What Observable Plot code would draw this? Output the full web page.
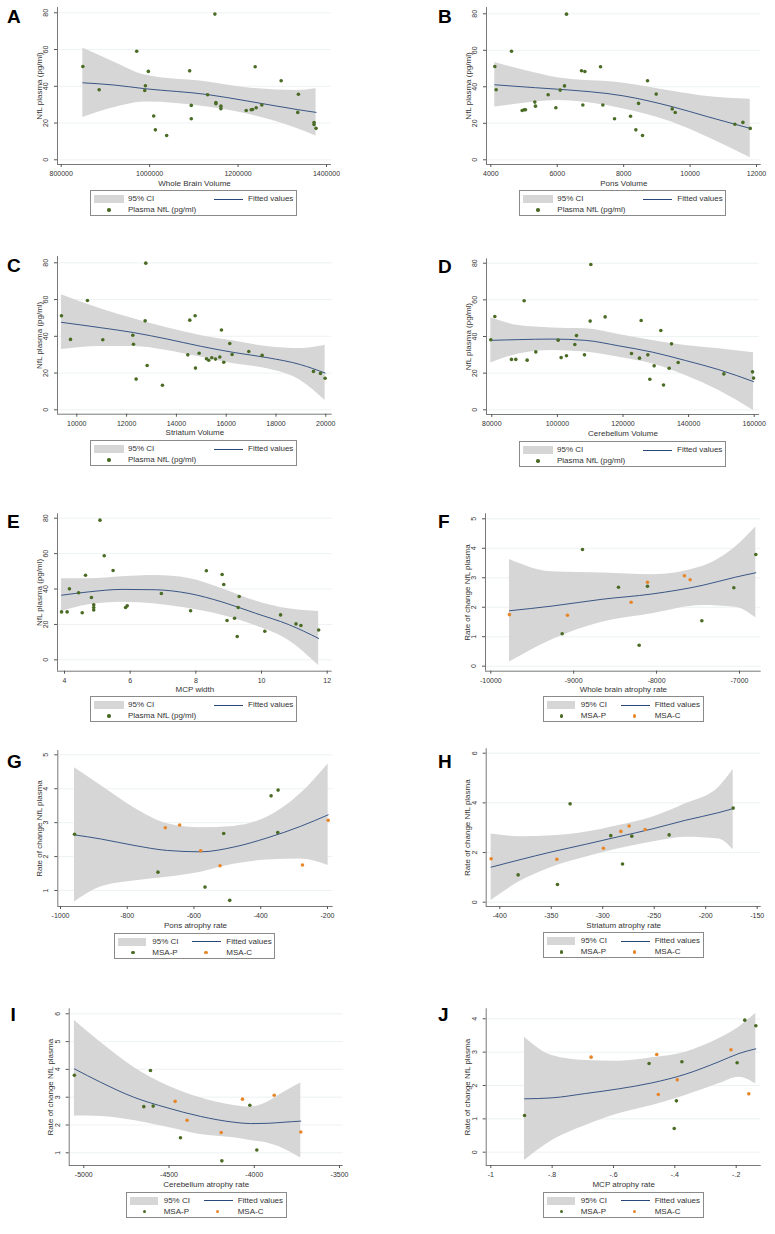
<!DOCTYPE html>
<html><head><meta charset="utf-8">
<script src="https://cdn.jsdelivr.net/npm/d3@7"></script>
<script src="https://cdn.jsdelivr.net/npm/@observablehq/plot@0.6"></script>
<style>
body{margin:0;background:#fff;}
#page{position:relative;width:775px;height:1234px;background:#fff;font-family:"Liberation Sans",Arial,sans-serif;color:#333;overflow:hidden;}
.panel{position:absolute;}
.letter{position:absolute;font-weight:bold;font-size:19px;color:#000;line-height:1;}
.legend{position:absolute;border:1px solid #8a8a8a;height:26px;box-sizing:border-box;background:#fff;font-size:8px;color:#333;}
.legend .sw{position:absolute;}
.legend .tx{position:absolute;transform:translateY(-50%);white-space:nowrap;line-height:1;}
</style></head><body><div id="page"></div>
<script>
// ---------- Data: panels A-E (plasma NfL, pg/ml) ----------
const aX = [848900,885800,970800,997100,990400,988900,1009200,1013000,1038500,1090500,1094200,1094200,1131100,1147600,1149900,1149900,1161200,1161200,1218400,1229700,1232700,1240900,1238700,1253700,1297400,1336500,1335000,1371900,1371900,1376400];
const aY = [50.8,38.1,59.1,48.1,40.3,37.7,23.8,16.3,13.2,48.4,29.6,22.3,35.4,79.3,31.2,30.5,29.2,27.8,26.8,27.2,27.4,28.3,50.6,29.8,43.0,35.7,25.8,20.3,19.2,17.1];
const aBandX = [848900,918900,988900,1131100,1218400,1335000,1376400];
const aHi = [60.8,53.2,46.1,42.3,39.2,37.7,38.6];
const aLo = [23.0,28.3,31.4,28.7,25.0,16.9,12.9];
const aFit = [41.9,40.7,38.7,35.5,32.1,27.3,25.8];

const bX = [4120,4160,4623,4944,5004,5044,5325,5345,5727,5958,6088,6219,6279,6731,6832,6771,7303,7373,7725,8207,8367,8448,8568,8719,8980,9462,9552,11349,11590,11811];
const bY = [51.1,38.4,59.5,27.0,27.4,27.4,31.6,29.4,35.6,28.5,38.2,40.5,79.8,48.8,48.4,30.0,51.0,30.0,22.5,23.9,16.4,30.9,13.3,43.3,36.0,27.9,25.9,19.5,20.5,17.2];
const bBandX = [4120,5345,6000,8000,9462,10530,11811];
const bHi = [53.3,47.5,44.9,42.0,37.6,34.7,33.2];
const bLo = [28.9,31.6,32.5,27.9,20.6,12.4,1.1];
const bFit = [41.1,39.5,38.7,35.0,29.1,23.6,17.2];

const cX = [9384,9746,10428,11044,12249,12276,12383,12744,12771,12825,13440,14458,14538,14752,14765,14913,15207,15301,15422,15569,15743,15810,15903,16144,16238,16907,17443,19505,19786,19973];
const cY = [51.2,38.3,59.5,38.1,40.6,35.7,16.7,48.4,79.8,24.1,13.4,29.9,48.8,51.2,22.7,30.8,27.8,27.0,28.3,27.6,28.7,43.4,25.9,36.1,30.1,31.7,29.6,20.9,19.8,17.2];
const cBandX = [9384,10950,12289,13628,14967,16305,17644,18983,19973];
const cHi = [62.6,55.0,49.5,44.6,40.5,37.4,34.5,33.3,35.1];
const cLo = [32.8,34.5,34.5,32.3,28.7,25.0,22.3,16.0,5.1];
const cFit = [47.6,44.7,42.0,38.5,34.6,31.2,28.4,24.6,20.0];

const dX = [79695,80915,86000,87320,89860,90775,93418,100228,101143,102770,105311,105820,108258,109987,110190,114560,122592,125031,125540,127573,128183,129504,131537,132350,134078,134790,136823,150750,159490,159800];
const dY = [38.2,50.9,27.5,27.5,59.5,27.1,31.6,38.0,28.5,29.5,35.6,40.5,30.0,48.4,79.3,50.7,30.7,28.2,48.7,30.0,16.7,24.0,43.3,13.5,22.7,36.0,25.8,19.6,20.7,17.3];
const dBandX = [79695,88234,98399,108564,118730,128894,139059,149224,159795];
const dHi = [50.2,46.0,44.7,44.2,41.1,37.8,35.1,33.3,31.1];
const dLo = [25.5,30.5,32.4,31.5,28.7,25.1,18.7,10.5,-0.4];
const dFit = [37.9,38.3,38.6,37.9,34.9,31.5,26.9,21.9,15.4];

const eX = [3.91,4.08,4.15,4.43,4.64,4.54,4.82,4.89,4.89,4.89,5.08,5.21,5.48,5.86,5.91,6.95,7.84,8.32,8.80,8.85,9.32,9.29,9.18,8.95,9.26,10.10,10.58,11.05,11.20,11.74];
const eY = [27.1,27.1,40.1,37.9,47.8,26.6,35.2,31.1,29.6,28.2,78.9,58.8,50.5,29.6,30.5,37.5,27.7,50.3,48.2,42.6,35.8,29.6,23.5,22.2,13.2,16.2,25.4,20.3,19.4,16.9];
const eBandX = [3.91,4.74,5.76,6.77,7.79,8.80,9.82,10.83,11.74];
const eHi = [45.8,45.8,46.9,47.6,46.0,40.2,33.3,28.8,27.3];
const eLo = [27.3,31.1,32.6,31.6,29.0,25.2,19.3,11.0,-3.2];
const eFit = [36.5,38.4,39.8,39.6,37.5,32.7,26.3,19.9,12.1];

// ---------- Data: panels F-J (rate of change of plasma NfL) ----------
const rateP = [3.96,1.10,2.68,2.71,0.71,1.54,2.66,3.79];   // MSA-P
const rateC = [1.75,1.73,2.17,2.85,3.07,2.93];             // MSA-C

const fP = [-8894,-9139,-8460,-8110,-8210,-7454,-7068,-6803];
const fC = [-9775,-9075,-8307,-8110,-7664,-7595];
const fBandX = [-9775,-9260,-8657,-8054,-7450,-7048,-6803];
const fHi = [3.62,3.20,3.16,3.10,3.38,4.04,4.72];
const fLo = [0.14,0.90,1.49,1.78,2.06,2.00,1.64];
const fFit = [1.88,2.04,2.27,2.45,2.74,3.02,3.17];

const gP = [-348,-567,-511,-349,-493,-708,-958,-369];
const gC = [-275,-522,-580,-686,-198,-643];
const gBandX = [-958,-880,-780,-680,-580,-481,-381,-281,-198];
const gHi = [4.62,4.10,3.44,2.97,2.85,2.89,3.16,3.85,4.73];
const gLo = [0.66,1.10,1.28,1.39,1.54,1.77,1.90,1.93,1.74];
const gFit = [2.64,2.52,2.33,2.18,2.14,2.28,2.55,2.89,3.23];

const hP = [-331.7,-382.2,-292.2,-235.5,-344.0,-280.8,-271.8,-173.3];
const hC = [-408.4,-344.6,-299.3,-282.4,-274.4,-258.8];
const hBandX = [-408.4,-381.5,-349.2,-316.8,-284.4,-252.0,-219.6,-187.2,-173.3];
const hHi = [2.75,2.64,2.68,2.82,3.09,3.42,3.96,4.63,5.34];
const hLo = [0.07,0.81,1.41,1.81,2.15,2.42,2.62,2.55,2.11];
const hFit = [1.41,1.70,2.03,2.33,2.64,2.95,3.30,3.61,3.77];

const iP = [-4609,-3985,-4593,-4026,-4190,-4433,-4648,-5055];
const iC = [-3727,-4194,-4394,-4464,-3883,-4069];
const iBandX = [-5055,-4902,-4707,-4511,-4316,-4120,-4022,-3924,-3826,-3727];
const iHi = [5.76,4.98,4.08,3.42,2.98,2.70,2.64,2.82,3.18,3.51];
const iLo = [2.32,2.31,2.16,1.92,1.66,1.54,1.44,1.35,1.14,0.81];
const iFit = [4.02,3.54,3.00,2.62,2.31,2.10,2.05,2.06,2.10,2.14];

const jP = [-0.172,-0.890,-0.197,-0.377,-0.402,-0.395,-0.484,-0.136];
const jC = [-0.159,-0.454,-0.392,-0.673,-0.217,-0.459];
const jBandX = [-0.890,-0.800,-0.691,-0.583,-0.474,-0.365,-0.257,-0.191,-0.136];
const jHi = [3.45,2.90,2.75,2.73,2.83,3.00,3.40,3.75,4.17];
const jLo = [-0.25,0.35,0.80,1.15,1.40,1.70,2.05,2.25,2.05];
const jFit = [1.60,1.63,1.76,1.90,2.08,2.34,2.71,2.96,3.10];

// ---------- Axis ticks & labels ----------
const nflTicks = [0,20,40,60,80];
const aTicks = [800000,1000000,1200000,1400000];
const bTicks = [4000,6000,8000,10000,12000];
const cTicks = [10000,12000,14000,16000,18000,20000];
const dTicks = [80000,100000,120000,140000,160000];
const eTicks = [4,6,8,10,12];
const fTicks = [-10000,-9000,-8000,-7000];
const gTicks = [-1000,-800,-600,-400,-200];
const hTicks = [-400,-350,-300,-250,-200,-150];
const iTicks = [-5000,-4500,-4000,-3500];
const jTicks = [-1,-0.8,-0.6,-0.4,-0.2];
const fYTicks = [0,1,2,3,4,5];
const gYTicks = [1,2,3,4,5];
const hYTicks = [0,2,4,6];
const iYTicks = [1,2,3,4,5,6];
const jYTicks = [0,1,2,3,4];

const nflTitle = "NfL plasma (pg/ml)";
const rateTitle = "Rate of change NfL plasma";
const legendCI = "95% CI", legendFit = "Fitted values", legendNfl = "Plasma NfL (pg/ml)";
const groupNames = ["MSA-P","MSA-C"];

// ---------- Styles ----------
const FONT = '"Liberation Sans", Arial, sans-serif';
const GREEN = "#4a6b24", ORANGE = "#e8862a", NAVY = "#27477a", BANDC = "#d6d6d6", AXIS = "#555", GRID = "#e9eff0";

function fmt(d){ return String(d).replace(/^(-?)0\./, "$1."); }

const panels = [
  {L:"A", lx:7, lb:23, sl:0, st:0, w:340, h:190, mL:57, mR:9, mT:7, xd:[791630,1411300], yd:[-2.56,82.88], xt:aTicks, yt:nflTicks, xTitle:"Whole Brain Volume", yTitle:nflTitle,
   series:[{x:aX,y:aY,c:GREEN}], bx:aBandX, hi:aHi, lo:aLo, fit:aFit, leg:{x:90,y:190,kind:"single"}},
  {L:"B", lx:438, lb:23, sl:385, st:0, w:390, h:190, mL:101, mR:14.3, mT:7, xd:[3870,12141], yd:[-2.58,83.45], xt:bTicks, yt:nflTicks, xTitle:"Pons Volume", yTitle:nflTitle,
   series:[{x:bX,y:bY,c:GREEN}], bx:bBandX, hi:bHi, lo:bLo, fit:bFit, leg:{x:519.3,y:190,kind:"single"}},
  {L:"C", lx:7, lb:272, sl:0, st:240, w:385, h:199.7, mL:57, mR:53.3, mT:16, xd:[9225,20257], yd:[-2.39,83.43], xt:cTicks, yt:nflTicks, xTitle:"Striatum Volume", yTitle:nflTitle,
   series:[{x:cX,y:cY,c:GREEN}], bx:cBandX, hi:cHi, lo:cLo, fit:cFit, leg:{x:90,y:440,kind:"single"}},
  {L:"D", lx:438, lb:273, sl:385, st:240, w:390, h:200, mL:101, mR:16, mT:18.3, xd:[78384,161616], yd:[-2.56,82.4], xt:dTicks, yt:nflTicks, xTitle:"Cerebellum Volume", yTitle:nflTitle,
   series:[{x:dX,y:dY,c:GREEN}], bx:dBandX, hi:dHi, lo:dLo, fit:dFit, leg:{x:519,y:441,kind:"single"}},
  {L:"E", lx:7, lb:528, sl:0, st:480, w:385, h:216.7, mL:57, mR:53.3, mT:33.3, xd:[3.787,12.152], yd:[-6.4,82.5], xt:eTicks, yt:nflTicks, xTitle:"MCP width", yTitle:nflTitle,
   series:[{x:eX,y:eY,c:GREEN}], bx:eBandX, hi:eHi, lo:eLo, fit:eFit, leg:{x:90,y:696,kind:"single"}},
  {L:"F", lx:438, lb:528, sl:385, st:480, w:390, h:216.7, mL:100, mR:14.3, mT:33.3, xd:[-10064,-6738], yd:[-0.17,5.17], xt:fTicks, yt:fYTicks, xTitle:"Whole brain atrophy rate", yTitle:rateTitle,
   series:[{x:fP,y:rateP,c:GREEN},{x:fC,y:rateC,c:ORANGE}], bx:fBandX, hi:fHi, lo:fLo, fit:fFit, leg:{x:542.7,y:696,kind:"group"}},
  {L:"G", lx:7, lb:768, sl:0, st:720, w:385, h:212, mL:57.3, mR:52.3, mT:30, xd:[-1008.1,-182.9], yd:[0.528,5.127], xt:gTicks, yt:gYTicks, xTitle:"Pons atrophy rate", yTitle:rateTitle,
   series:[{x:gP,y:rateP,c:GREEN},{x:gC,y:rateC,c:ORANGE}], bx:gBandX, hi:gHi, lo:gLo, fit:gFit, leg:{x:114.3,y:932.7,kind:"group"}},
  {L:"H", lx:438, lb:768, sl:385, st:720, w:390, h:212, mL:100.7, mR:14.3, mT:28.3, xd:[-413.2,-146.1], yd:[-0.173,6.177], xt:hTicks, yt:hYTicks, xTitle:"Striatum atrophy rate", yTitle:rateTitle,
   series:[{x:hP,y:rateP,c:GREEN},{x:hC,y:rateC,c:ORANGE}], bx:hBandX, hi:hHi, lo:hLo, fit:hFit, leg:{x:542.7,y:932.3,kind:"group"}},
  {L:"I", lx:10.5, lb:1021, sl:0, st:970, w:385, h:221, mL:68.7, mR:42.3, mT:38.3, xd:[-5085.6,-3478.3], yd:[0.543,6.18], xt:iTicks, yt:iYTicks, xTitle:"Cerebellum atrophy rate", yTitle:rateTitle,
   series:[{x:iP,y:rateP,c:GREEN},{x:iC,y:rateC,c:ORANGE}], bx:iBandX, hi:iHi, lo:iLo, fit:iFit, leg:{x:125.7,y:1191.7,kind:"group"}},
  {L:"J", lx:438, lb:1021, sl:385, st:970, w:390, h:221, mL:100.7, mR:14.3, mT:38.3, xd:[-1.015,-0.1185], yd:[-0.399,4.30], xt:jTicks, yt:jYTicks, xTitle:"MCP atrophy rate", yTitle:rateTitle,
   series:[{x:jP,y:rateP,c:GREEN},{x:jC,y:rateC,c:ORANGE}], bx:jBandX, hi:jHi, lo:jLo, fit:jFit, leg:{x:542.7,y:1191.7,kind:"group"}}
];

const page = document.getElementById("page");

function el(tag, cls, styles, text){
  const e = document.createElement(tag);
  if (cls) e.className = cls;
  Object.assign(e.style, styles || {});
  if (text != null) e.textContent = text;
  return e;
}

function drawLegend(p){
  const g = p.leg;
  const single = g.kind === "single";
  const box = el("div","legend",{left:g.x+"px", top:g.y+"px", width:(single?207:161)+"px"});
  const r1 = 8, r2 = 19;
  const c2sw = single ? 123 : 77, c2tx = single ? 157 : 111;
  box.appendChild(el("div","sw",{left:"3px", top:(r1-4)+"px", width:(single?30:28)+"px", height:"8px", background:BANDC}));
  box.appendChild(el("div","tx",{left:"37px", top:r1+"px"}, legendCI));
  box.appendChild(el("div","sw",{left:c2sw+"px", top:(r1-0.5)+"px", width:"29px", height:"1px", background:NAVY}));
  box.appendChild(el("div","tx",{left:c2tx+"px", top:r1+"px"}, legendFit));
  box.appendChild(el("div","sw",{left:"16px", top:(r2-2)+"px", width:"3.6px", height:"3.6px", borderRadius:"50%", background:GREEN}));
  box.appendChild(el("div","tx",{left:"37px", top:r2+"px"}, single ? legendNfl : groupNames[0]));
  if (!single){
    box.appendChild(el("div","sw",{left:"89px", top:(r2-2)+"px", width:"3.6px", height:"3.6px", borderRadius:"50%", background:ORANGE}));
    box.appendChild(el("div","tx",{left:c2tx+"px", top:r2+"px"}, groupNames[1]));
  }
  page.appendChild(box);
}

for (const p of panels){
  const band = p.bx.map((x,i)=>({x, lo:p.lo[i], hi:p.hi[i], fit:p.fit[i]}));
  const marks = [
    Plot.gridY(p.yt, {stroke: GRID, strokeOpacity: 1, strokeWidth: 0.8}),
    Plot.areaY(band, {x:"x", y1:"lo", y2:"hi", fill: BANDC, curve: "monotone-x"}),
    Plot.line(band, {x:"x", y:"fit", stroke: NAVY, strokeWidth: 0.9, curve: "monotone-x"}),
    ...p.series.map(s => Plot.dot(s.x.map((x,i)=>[x, s.y[i]]), {x: d=>d[0], y: d=>d[1], r: 1.8, fill: s.c, stroke: null})),
    Plot.ruleX([p.xd[0]], {stroke: AXIS, strokeWidth: 0.8}),
    Plot.ruleY([p.yd[0]], {stroke: AXIS, strokeWidth: 0.8}),
    Plot.axisX(p.xt, {tickSize: 3, tickPadding: 3.5, tickFormat: fmt, label: null, stroke: AXIS, fill: "#333", fontSize: 7}),
    Plot.axisY(p.yt, {tickSize: 3, tickPadding: 6.5, tickRotate: -90, tickFormat: fmt, label: null, stroke: AXIS, fill: "#333", fontSize: 7}),
    Plot.text([p.xTitle], {text: d=>d, frameAnchor: "bottom", dy: 18.5, textAnchor: "middle", lineAnchor: "middle", fontSize: 8, fill: "#333"}),
    Plot.text([p.yTitle], {text: d=>d, frameAnchor: "left", dx: -18.5, rotate: -90, textAnchor: "middle", lineAnchor: "middle", fontSize: 8, fill: "#333"})
  ];
  const chart = Plot.plot({
    width: p.w, height: p.h,
    marginLeft: p.mL, marginRight: p.mR, marginTop: p.mT, marginBottom: 26,
    style: {fontFamily: FONT, fontSize: "7px", color: "#333", background: "transparent", overflow: "hidden"},
    x: {domain: p.xd}, y: {domain: p.yd},
    marks
  });
  const wrap = el("div","panel",{left:p.sl+"px", top:p.st+"px", width:p.w+"px", height:p.h+"px"});
  wrap.appendChild(chart);
  page.appendChild(wrap);
  page.appendChild(el("div","letter",{left:p.lx+"px", top:(p.lb-16.1)+"px"}, p.L));
  drawLegend(p);
}
</script></body></html>
